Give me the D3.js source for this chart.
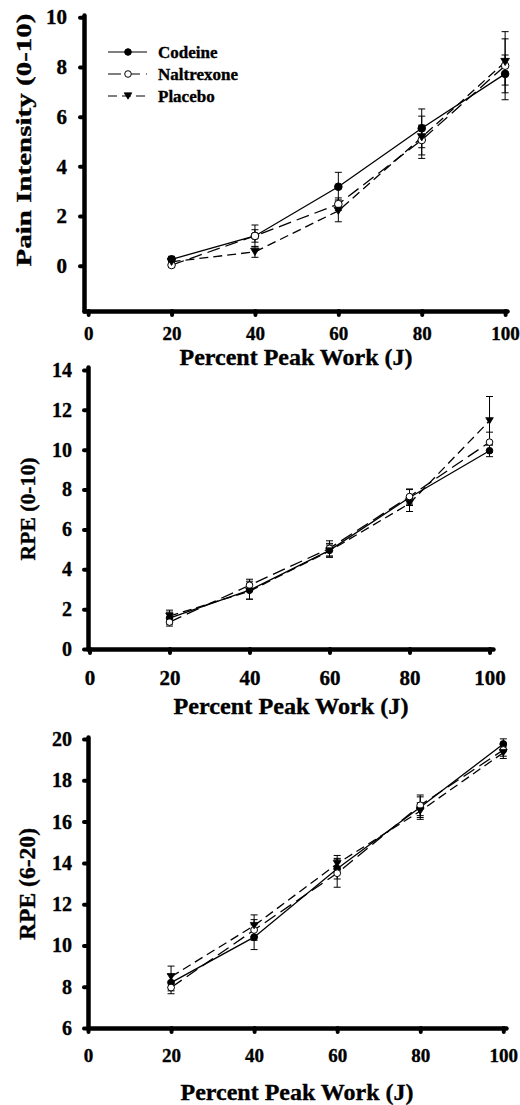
<!DOCTYPE html>
<html>
<head>
<meta charset="utf-8">
<script src="https://cdn.jsdelivr.net/npm/d3@7"></script>
<style>
  html, body { margin: 0; padding: 0; background: #fff; }
  svg { display: block; }
  text { font-family: "Liberation Serif", "Times New Roman", serif; font-weight: bold; fill: #000; stroke: #000; stroke-width: 0.35px; }
</style>
</head>
<body>
<svg id="chart" width="520" height="1105"></svg>
<script>
// Workload stages (% of peak work) and treatment groups
const workPercent = [20, 40, 60, 80, 100];
const treatments = ["Codeine", "Naltrexone", "Placebo"];
const xTickValues = [0, 20, 40, 60, 80, 100];

// Pain intensity (0-10): means and standard errors
const painCodeine      = [0.26, 1.20, 3.18, 5.53, 7.72];
const painNaltrexone   = [0.03, 1.20, 2.48, 5.06, 8.05];
const painPlacebo      = [0.16, 0.56, 2.21, 5.17, 8.20];
const painCodeineSE    = [0.12, 0.44, 0.58, 0.78, 0.76];
const painNaltrexoneSE = [0.10, 0.25, 0.25, 0.60, 1.37];
const painPlaceboSE    = [0.10, 0.22, 0.44, 0.85, 0.93];
const painTicks = [0, 2, 4, 6, 8, 10];

// RPE (0-10)
const rpe10Codeine      = [1.55, 2.95, 4.95, 7.60, 9.95];
const rpe10Naltrexone   = [1.35, 3.20, 5.05, 7.65, 10.38];
const rpe10Placebo      = [1.65, 2.90, 4.92, 7.30, 11.45];
const rpe10CodeineSE    = [0.30, 0.45, 0.35, 0.40, 0.30];
const rpe10NaltrexoneSE = [0.20, 0.30, 0.38, 0.38, 0.50];
const rpe10PlaceboSE    = [0.30, 0.40, 0.30, 0.40, 1.22];
const rpe10Ticks = [0, 2, 4, 6, 8, 10, 12, 14];

// RPE (6-20, Borg scale)
const rpe20Codeine      = [8.20, 10.40, 13.72, 16.70, 19.76];
const rpe20Naltrexone   = [7.96, 10.75, 13.50, 16.79, 19.47];
const rpe20Placebo      = [8.48, 10.96, 13.96, 16.51, 19.34];
const rpe20CodeineSE    = [0.40, 0.60, 0.50, 0.50, 0.25];
const rpe20NaltrexoneSE = [0.30, 0.50, 0.68, 0.50, 0.30];
const rpe20PlaceboSE    = [0.52, 0.52, 0.40, 0.40, 0.28];
const rpe20Ticks = [6, 8, 10, 12, 14, 16, 18, 20];

const xTitle = "Percent Peak Work (J)";

// Line and marker style for each treatment
const styles = {
  Codeine:    { dash: null,   marker: "circle",   fill: "#000" },
  Naltrexone: { dash: "13,6", marker: "circle",   fill: "#fff" },
  Placebo:    { dash: "9,5",  marker: "triangle", fill: "#000" }
};

const svg = d3.select("#chart");

const panels = [
  {
    yTitle: "Pain Intensity (0-10)", ticks: painTicks,
    values: [painCodeine, painNaltrexone, painPlacebo],
    errors: [painCodeineSE, painNaltrexoneSE, painPlaceboSE],
    xDomain: [-1, 100.45], xRange: [84, 507],
    yDomain: [-1.82, 10.09], yRange: [311, 15],
    r: 3.8, xTickFont: 19, xTickBase: 340, yTickFont: 21, yTickPad: 13,
    titleX: 296, titleBase: 365, titleFont: 23, titleLen: 233,
    yTitleX: 23, yTitleY: 140, yTitleFont: 22, yTitleLen: 253,
    legend: true
  },
  {
    yTitle: "RPE (0-10)", ticks: rpe10Ticks,
    values: [rpe10Codeine, rpe10Naltrexone, rpe10Placebo],
    errors: [rpe10CodeineSE, rpe10NaltrexoneSE, rpe10PlaceboSE],
    xDomain: [-0.37, 100.87], xRange: [88, 493],
    yDomain: [0, 14.15], yRange: [649, 367],
    r: 3.3, xTickFont: 21, xTickBase: 685, yTickFont: 20, yTickPad: 12,
    titleX: 291, titleBase: 714, titleFont: 24, titleLen: 235,
    yTitleX: 27, yTitleY: 509, yTitleFont: 22, yTitleLen: 103,
    legend: false
  },
  {
    yTitle: "RPE (6-20)", ticks: rpe20Ticks,
    values: [rpe20Codeine, rpe20Naltrexone, rpe20Placebo],
    errors: [rpe20CodeineSE, rpe20NaltrexoneSE, rpe20PlaceboSE],
    xDomain: [0, 100.65], xRange: [88, 506],
    yDomain: [6, 20.1], yRange: [1028, 737],
    r: 3.4, xTickFont: 19, xTickBase: 1062, yTickFont: 20, yTickPad: 12,
    titleX: 297, titleBase: 1100, titleFont: 24, titleLen: 233,
    yTitleX: 27, yTitleY: 884, yTitleFont: 23.5, yTitleLen: 112,
    legend: false
  }
];

function drawMarker(g, kind, cx, cy, r, fill) {
  if (kind === "circle") {
    g.append("circle").attr("cx", cx).attr("cy", cy).attr("r", r)
      .attr("fill", fill).attr("stroke", "#000").attr("stroke-width", 1);
  } else {
    const h = r * 1.9, w = r * 1.15;
    g.append("path")
      .attr("d", `M${cx - w},${cy - h / 2}L${cx + w},${cy - h / 2}L${cx},${cy + h / 2}Z`)
      .attr("fill", fill).attr("stroke", "#000").attr("stroke-width", 0.8);
  }
}

panels.forEach(p => {
  const x = d3.scaleLinear().domain(p.xDomain).range(p.xRange);
  const y = d3.scaleLinear().domain(p.yDomain).range(p.yRange);
  const g = svg.append("g");

  // Axes
  const tickSize = 4;
  const xAxis = d3.axisBottom(x).tickValues(xTickValues).tickSizeInner(tickSize).tickSizeOuter(0)
    .tickPadding(p.xTickBase - p.yRange[0] - tickSize - 0.71 * p.xTickFont);
  const yAxis = d3.axisLeft(y).tickValues(p.ticks).tickSizeInner(tickSize).tickSizeOuter(0)
    .tickPadding(p.yTickPad);

  const gx = g.append("g").attr("transform", `translate(0,${p.yRange[0]})`).call(xAxis);
  const gy = g.append("g").attr("transform", `translate(${p.xRange[0]},0)`).call(yAxis);

  [gx, gy].forEach(a => {
    a.select(".domain").attr("stroke", "#000").attr("stroke-width", 4.5).attr("stroke-linecap", "round");
    a.selectAll(".tick line").attr("stroke", "#000").attr("stroke-width", 4).attr("stroke-linecap", "round");
    a.selectAll(".tick text").attr("fill", "#000")
      .style("font-family", '"Liberation Serif", "Times New Roman", serif').style("font-weight", "bold");
  });
  gx.selectAll(".tick text").style("font-size", p.xTickFont + "px");
  gy.selectAll(".tick text").style("font-size", p.yTickFont + "px");

  // Axis titles
  g.append("text").attr("x", p.titleX).attr("y", p.titleBase)
    .attr("text-anchor", "middle").style("font-size", p.titleFont + "px")
    .attr("textLength", p.titleLen).attr("lengthAdjust", "spacingAndGlyphs")
    .text(xTitle);
  g.append("text")
    .attr("transform", `translate(${p.yTitleX},${p.yTitleY}) rotate(-90)`)
    .attr("text-anchor", "middle").attr("dy", "0.35em")
    .style("font-size", p.yTitleFont + "px")
    .attr("textLength", p.yTitleLen).attr("lengthAdjust", "spacingAndGlyphs")
    .text(p.yTitle);

  // Series lines
  const line = d3.line().x((d, i) => x(workPercent[i])).y(d => y(d));
  treatments.forEach((t, k) => {
    g.append("path").datum(p.values[k])
      .attr("d", line).attr("fill", "none").attr("stroke", "#000").attr("stroke-width", 1.3)
      .attr("stroke-dasharray", styles[t].dash);
  });

  // Error bars
  treatments.forEach((t, k) => {
    p.values[k].forEach((v, i) => {
      const cx = x(workPercent[i]);
      const se = p.errors[k][i];
      const y0 = y(v - se), y1 = y(v + se);
      g.append("line").attr("x1", cx).attr("x2", cx).attr("y1", y0).attr("y2", y1)
        .attr("stroke", "#000").attr("stroke-width", 1);
      [y0, y1].forEach(yy => g.append("line")
        .attr("x1", cx - 3.5).attr("x2", cx + 3.5).attr("y1", yy).attr("y2", yy)
        .attr("stroke", "#000").attr("stroke-width", 1));
    });
  });

  // Markers
  treatments.forEach((t, k) => {
    p.values[k].forEach((v, i) => {
      drawMarker(g, styles[t].marker, x(workPercent[i]), y(v), p.r, styles[t].fill);
    });
  });

  // Legend
  if (p.legend) {
    const lg = g.append("g");
    const rowsY = [52, 74, 96];
    treatments.forEach((t, k) => {
      const yy = rowsY[k];
      lg.append("line").attr("x1", 108).attr("x2", 147).attr("y1", yy).attr("y2", yy)
        .attr("stroke", "#000").attr("stroke-width", 1.2)
        .attr("stroke-dasharray", styles[t].dash);
      drawMarker(lg, styles[t].marker, 128, yy, 3.3, styles[t].fill);
      lg.append("text").attr("x", 158).attr("y", yy).attr("dy", "0.33em")
        .style("font-size", "17px").text(t);
    });
  }
});
</script>
</body>
</html>
